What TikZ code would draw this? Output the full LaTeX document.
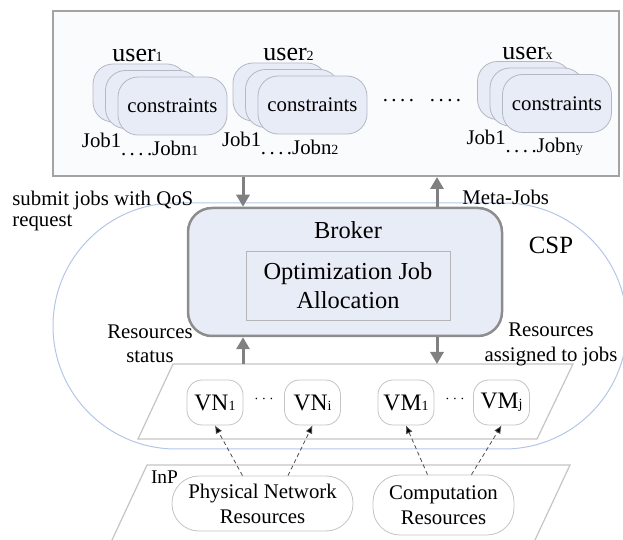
\documentclass[tikz,border=0pt]{standalone}
\usepackage{fontspec}
\setmainfont{Liberation Serif}
\usetikzlibrary{arrows.meta}
\usetikzlibrary{calc}

\definecolor{cardblue}{HTML}{E8ECF7}
\definecolor{cardline}{HTML}{B4B8C4}
\definecolor{framegray}{HTML}{A3A3A3}
\definecolor{paperwhite}{HTML}{FAFBFD}
\definecolor{cspblue}{HTML}{B4C6E7}
\definecolor{planegray}{HTML}{C4C4C4}
\definecolor{arrowgray}{HTML}{808080}

\newcommand{\lowidx}[1]{{\scriptsize #1}}
\newcommand{\txtnormal}{\fontsize{10.4}{12.5}\selectfont}
\newcommand{\txtbig}{\fontsize{12.2}{14.5}\selectfont}
\newcommand{\txtuser}{\fontsize{13}{15}\selectfont}
\newcommand{\txtvn}{\fontsize{11.8}{14}\selectfont}

\tikzset{
  userframe/.style={draw=framegray, fill=paperwhite, line width=1pt, inner sep=0pt},
  card/.style={draw=cardline, fill=cardblue, rounded corners=10pt, minimum height=29pt, inner sep=0pt},
  brokerbox/.style={draw=arrowgray!90, fill=cardblue, line width=1.25pt, rounded corners=12pt, inner sep=0pt},
  optbox/.style={draw=framegray!80, fill=cardblue, line width=0.4pt, inner sep=0pt},
  cspline/.style={draw=cspblue, line width=0.5pt, rounded corners=61.5pt},
  plane/.style={draw=planegray, line width=0.6pt},
  vnbox/.style={draw=planegray, fill=white, rounded corners=7.5pt, minimum width=28pt, minimum height=22.5pt, inner sep=0pt, font=\txtvn},
  resbox/.style={draw=planegray, fill=white, rounded corners=13.5pt, align=center, inner sep=0pt, font=\txtnormal},
  lbl/.style={inner sep=0pt, font=\txtnormal},
  bigarrow/.style={draw=arrowgray, line width=1.5pt, -{Triangle[length=6pt,width=6.5pt]}},
  dasharrow/.style={draw=black!70, line width=0.4pt, dash pattern=on 2pt off 1.5pt, -{Latex[length=4pt,width=3.5pt,fill=black]}}
}

\begin{document}
\begin{tikzpicture}[x=0.5pt,y=-0.5pt]
  \useasboundingbox (0,0) rectangle (623,540);
  \clip (0,0) rectangle (623,540);

  % users and their jobs
  \node[userframe, minimum width=283pt, minimum height=82.5pt] (users) at (336,93.5) {};
  \foreach \fx/\fy/\ux/\idx/\jdx/\nm in {172.5/106/112/1/1/a, 312.5/105/263/2/2/b, 557/103.5/502/x/y/c} {
    \node[card, minimum width=47pt] (back\nm) at (\fx-32.5,\fy-13) {};
    \node[card, minimum width=47pt] (mid\nm) at (\fx-20,\fy-6.5) {};
    \node[card, minimum width=54.5pt, font=\txtnormal] (front\nm) at (\fx,\fy) {constraints};
    \node[anchor=base west, inner sep=0pt, font=\txtuser] (user\nm) at (\ux,\fy-44) {user\lowidx{\idx}};
    \node[lbl, anchor=base west] (jobfirst\nm) at ([shift={(-36,12)}]front\nm.south west) {Job1};
    \node[lbl, anchor=base west] (joblast\nm) at ([shift={(3,20)}]front\nm.south west) {.\,.\,.\,.Jobn\lowidx{\jdx}};
  }
  \node[lbl] (userdots) at (422,101) {.\,.\,.\,.\hspace{8pt}.\,.\,.\,.};

  % cloud service provider
  \draw[cspline] (53,203) rectangle (627,449);
  \node[lbl, font=\fontsize{12.4}{14}\selectfont] (csp) at (551,245) {CSP};

  % broker
  \node[brokerbox, minimum width=157pt, minimum height=64pt] (broker) at (345,272) {};
  \node[inner sep=0pt, font=\txtbig] (brokertitle) at (348,230) {Broker};
  \node[optbox, minimum width=102pt, minimum height=34.5pt, align=center, font=\txtbig] (opt) at (348,285.5) {Optimization Job\\Allocation};

  \coordinate (jobsin) at ([xshift=-51pt]broker.north);
  \coordinate (jobsout) at ([xshift=46pt]broker.north);
  \draw[bigarrow] (users.south -| jobsin) -- (jobsin);
  \draw[bigarrow] (jobsout) -- (users.south -| jobsout);
  \node[lbl, anchor=west, align=left, font=\fontsize{10.4}{10.2}\selectfont] (submit) at (12,211) {submit jobs with QoS\\request};
  \node[lbl, anchor=west] (metajobs) at (462,197) {Meta-Jobs};

  % virtual resources
  \draw[plane] (173,364) coordinate (vplane) -- (573,364) -- (537,439) -- (138,439) -- cycle;
  \coordinate (statusin) at ([xshift=-51pt]broker.south);
  \coordinate (assignout) at ([xshift=46pt]broker.south);
  \draw[bigarrow] (statusin |- vplane) -- (statusin);
  \draw[bigarrow] (assignout) -- (assignout |- vplane);
  \node[lbl, align=center, font=\fontsize{10.4}{12}\selectfont] (status) at (150,344) {Resources\\status};
  \node[lbl, align=center, font=\fontsize{10.4}{12.5}\selectfont] (assigned) at (551,344.5) {Resources\\assigned to jobs};

  \node[vnbox] (vn1) at (215,402.5) {VN\lowidx{1}};
  \node[vnbox] (vni) at (312.5,402.5) {VN\lowidx{i}};
  \node[vnbox] (vm1) at (406,402.5) {VM\lowidx{1}};
  \node[vnbox] (vmj) at (501.5,402.5) {VM\lowidx{j}};
  \node[inner sep=0pt, font=\scriptsize] (vndots) at (264,399) {$\cdots$};
  \node[inner sep=0pt, font=\scriptsize] (vmdots) at (455,399) {$\cdots$};

  % infrastructure provider
  \draw[plane] (112,540) -- (147,465) -- (570,465) -- (535,540);
  \node[lbl, font=\fontsize{9.7}{11}\selectfont] (inp) at (164.5,477) {InP};
  \node[resbox, minimum width=90.5pt, minimum height=27.5pt] (phys) at (262.5,503.5) {Physical Network\\Resources};
  \node[resbox, minimum width=70.5pt, minimum height=30pt] (comp) at (443.5,505) {Computation\\Resources};

  \draw[dasharrow] ([xshift=-10pt]phys.north) -- (vn1.south);
  \draw[dasharrow] ([xshift=12.75pt]phys.north) -- (vni.south);
  \draw[dasharrow] ([xshift=-8pt]comp.north) -- (vm1.south);
  \draw[dasharrow] ([xshift=14pt]comp.north) -- (vmj.south);
\end{tikzpicture}
\end{document}
